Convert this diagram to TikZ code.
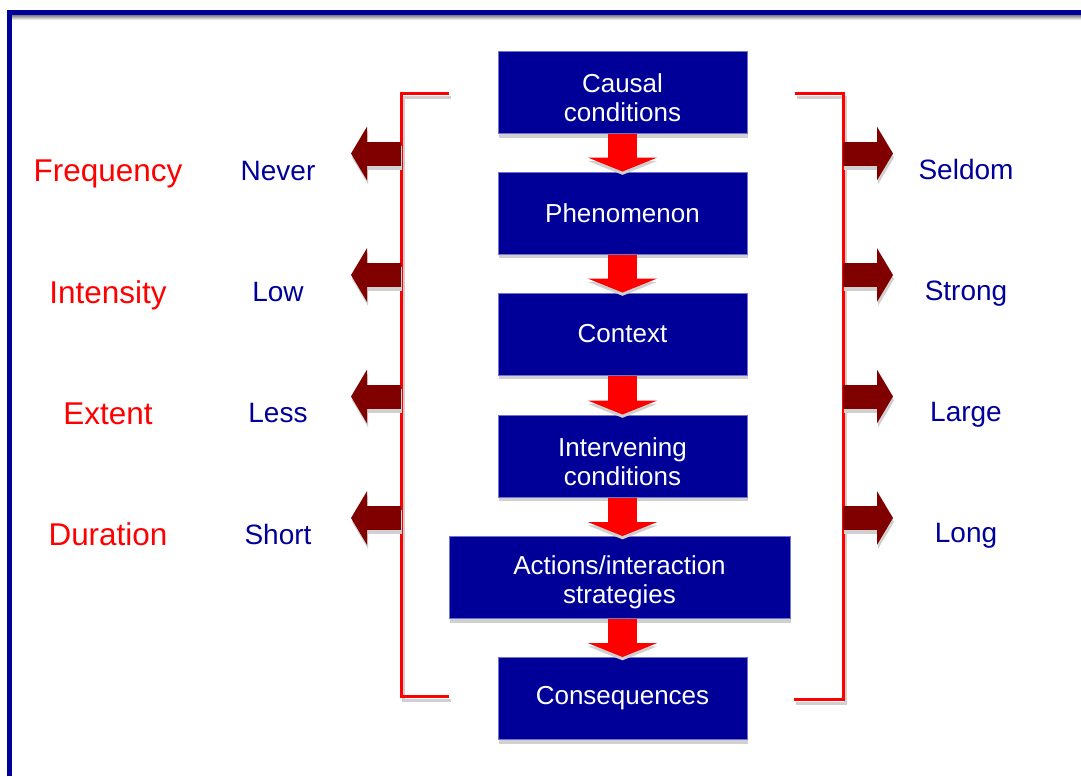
\documentclass[tikz,border=0pt]{standalone}
\usepackage{fontspec}
\setmainfont{Liberation Sans}
\usetikzlibrary{arrows.meta,shadows}
\definecolor{navy}{RGB}{0,0,153}
\definecolor{maroon}{RGB}{128,0,0}
\definecolor{shade}{RGB}{208,208,208}
\newcommand{\lowerline}{\rule{0pt}{22pt}}

\begin{document}
\begin{tikzpicture}[x=0.75pt,y=-0.75pt]
		% Define node styles
		\tikzstyle{stage} = [fill=navy, draw=navy!55, line width=0.75pt, text=white, align=center, minimum width=186.75pt, minimum height=61.5pt, font=\fontsize{19.5}{21.75}\selectfont, drop shadow={shadow xshift=0.75pt, shadow yshift=-3pt, fill=shade, opacity=1}];
		\tikzstyle{factor} = [text=red, anchor=base, font=\fontsize{23.6}{26}\selectfont];
		\tikzstyle{level} = [text=navy, anchor=base, font=\fontsize{21}{24}\selectfont];
		\tikzstyle{flow} = [draw=red, line width=21.75pt, -{Triangle[width=51.75pt,length=10.5pt]}, preaction={draw=shade, line width=21.75pt, -{Triangle[width=51.75pt,length=10.5pt]}, transform canvas={yshift=-2.5pt}}];
		\tikzstyle{side} = [draw=maroon, line width=18pt, -{Triangle[width=39.75pt,length=12pt]}, preaction={draw=shade, line width=18pt, -{Triangle[width=39.75pt,length=12pt]}, transform canvas={xshift=0.75pt, yshift=-3pt}}];
		\tikzstyle{bracket} = [draw=red, line width=2.25pt, preaction={draw=shade, line width=2.25pt, transform canvas={xshift=1.5pt, yshift=-3pt}}];
		
		\useasboundingbox (0,0) rectangle (1081,776);
		
		% Frame
		\fill[shade] (11,15) rectangle (1081,20);
		\draw[navy, line width=3.75pt] (9,776) -- (9,12.5) -- (1081,12.5);
		
		% Stages of the paradigm
		\node[stage] (causal) at (622.5,92.5) {\lowerline Causal\\conditions};
		\node[stage] (phenomenon) at (622.5,213) {Phenomenon};
		\node[stage] (context) at (622.5,334) {Context};
		\node[stage] (intervening) at (622.5,456) {\lowerline Intervening\\conditions};
		\node[stage, minimum width=255.75pt] (actions) at (619.5,577.5) {\lowerline Actions/interaction\\strategies};
		\node[stage] (consequences) at (622.5,698.5) {Consequences};
		
		% Flow between stages
		\draw[flow] (causal.south) -- (phenomenon.north);
		\draw[flow] (phenomenon.south) -- (context.north);
		\draw[flow] (context.south) -- (intervening.north);
		\draw[flow] (intervening.south) -- (intervening.south |- actions.north);
		\draw[flow] (actions.south -| consequences.north) -- (consequences.north);
		
		% Brackets
		\draw[bracket] (449,93) -- (401,93) -- (401,696) -- (449,696);
		\draw[bracket] (795,93) -- (843,93) -- (843,699) -- (794,699);
		
		% Arrow ends
		\coordinate (left1) at (401,153.5);
		\coordinate (left2) at (401,275);
		\coordinate (left3) at (401,396.5);
		\coordinate (left4) at (401,518);
		\coordinate (lefttip1) at (351,153.5);
		\coordinate (lefttip2) at (351,275);
		\coordinate (lefttip3) at (351,396.5);
		\coordinate (lefttip4) at (351,518);
		\coordinate (right1) at (843,153.5);
		\coordinate (right2) at (843,275);
		\coordinate (right3) at (843,396.5);
		\coordinate (right4) at (843,518);
		\coordinate (righttip1) at (893,153.5);
		\coordinate (righttip2) at (893,275);
		\coordinate (righttip3) at (893,396.5);
		\coordinate (righttip4) at (893,518);
		
		% Dimension arrows
		\draw[side] (left1) -- (lefttip1);
		\draw[side] (left2) -- (lefttip2);
		\draw[side] (left3) -- (lefttip3);
		\draw[side] (left4) -- (lefttip4);
		\draw[side] (right1) -- (righttip1);
		\draw[side] (right2) -- (righttip2);
		\draw[side] (right3) -- (righttip3);
		\draw[side] (right4) -- (righttip4);
		
		% Properties
		\node[factor] (frequency) at (108,181.7) {Frequency};
		\node[factor] (intensity) at (108,303) {Intensity};
		\node[factor] (extent) at (108,424.3) {Extent};
		\node[factor] (duration) at (108,545.7) {Duration};
		
		% Dimensional range
		\node[level] (never) at (278,180) {Never};
		\node[level] (low) at (278,301.3) {Low};
		\node[level] (less) at (278,422.7) {Less};
		\node[level] (short) at (278,544) {Short};
		\node[level] (seldom) at (966,179.5) {Seldom};
		\node[level] (strong) at (966,300.5) {Strong};
		\node[level] (large) at (966,421.5) {Large};
		\node[level] (long) at (966,542.5) {Long};
	\end{tikzpicture}
\end{document}
